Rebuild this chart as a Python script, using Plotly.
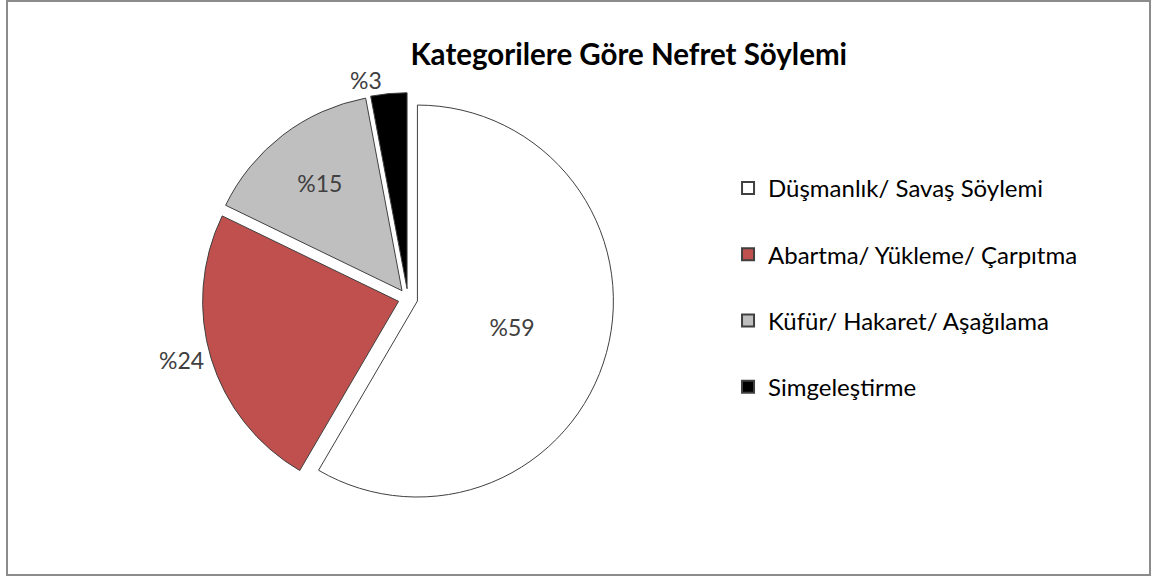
import plotly.graph_objects as go

categories = ["Düşmanlık/ Savaş Söylemi", "Abartma/ Yükleme/ Çarpıtma",
              "Küfür/ Hakaret/ Aşağılama", "Simgeleştirme"]
values = [59, 24, 15, 3]
labels = ["%59", "%24", "%15", "%3"]
colors = ["#FFFFFF", "#C0504D", "#BFBFBF", "#000000"]

W, H = 1158, 578
font = "Lato, 'Open Sans', sans-serif"

fig = go.Figure()

fig.add_trace(go.Pie(
    labels=categories,
    values=values,
    text=labels,
    textinfo="text",
    textposition=["inside", "outside", "inside", "outside"],
    insidetextorientation="horizontal",
    textfont=dict(family=font, size=23, color="#404040"),
    sort=False,
    direction="clockwise",
    rotation=0,
    pull=[0.05, 0.05, 0.05, 0.05],
    marker=dict(colors=colors, line=dict(color="#404040", width=1)),
    domain=dict(x=[0.1746, 0.5300], y=[0.1250, 0.8422]),
    showlegend=False,
    hoverinfo="label+percent",
))

# legend entries (separate traces so the spacing can match)
for i, (name, c) in enumerate(zip(categories, colors)):
    fig.add_trace(go.Scatter(
        x=[None], y=[None], mode="markers", name=name,
        legendgroup=str(i),
        marker=dict(symbol="square", size=13, color=c,
                    line=dict(color="#404040", width=1)),
    ))

fig.update_layout(
    width=W, height=H,
    margin=dict(l=0, r=0, t=0, b=0),
    paper_bgcolor="white",
    plot_bgcolor="white",
    title=dict(text="<b>Kategorilere Göre Nefret Söylemi</b>",
               x=0.543, y=0.905, xanchor="center", yanchor="middle",
               font=dict(family=font, size=29.5, color="#000000")),
    legend=dict(x=0.6287, y=0.7128, xanchor="left", yanchor="top",
                traceorder="grouped", tracegroupgap=32,
                font=dict(family=font, size=24, color="#000000"),
                itemsizing="constant", bgcolor="rgba(0,0,0,0)"),
    xaxis=dict(visible=False),
    yaxis=dict(visible=False),
    shapes=[dict(type="rect", xref="paper", yref="paper",
                 x0=7 / W, x1=1150 / W, y0=1 - 575 / H, y1=1 - 1 / H,
                 line=dict(color="#8C8C8C", width=2))],
)

# drop the default page margin so the figure sits at the window corner
fig.write_html("out.html", config={"displayModeBar": False},
               post_script="document.body.style.margin='0';")
